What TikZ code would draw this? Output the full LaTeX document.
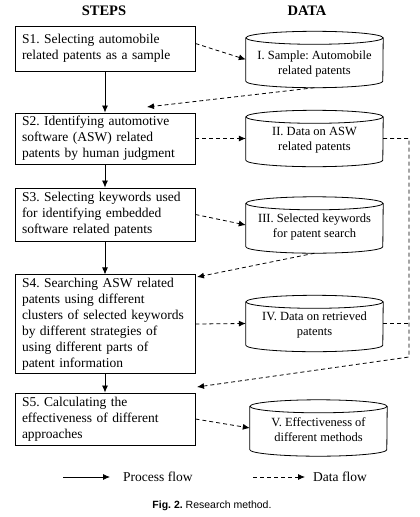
\documentclass[tikz,border=0pt]{standalone}
\usepackage{fontspec}
\setmainfont{Liberation Serif}
\newfontfamily\capfont{Liberation Sans}
\usetikzlibrary{arrows.meta,calc}
\frenchspacing
\tikzset{
 stepbox/.style={draw, line width=0.9pt, minimum width=180pt, text width=166pt, inner xsep=7pt, inner ysep=3pt, align=left, font=\fontsize{13.5}{16}\selectfont},
 cylbox/.style={rectangle, minimum width=137pt, minimum height=56pt, inner sep=0pt},
 cyltext/.style={align=center, font=\fontsize{12.5}{15}\selectfont, inner sep=0pt},
 cylline/.style={line width=0.8pt},
 process/.style={line width=0.8pt, -{Latex[length=7pt,width=6pt]}},
 dataflow/.style={line width=0.8pt, dash pattern=on 4pt off 3pt, -{Latex[length=7pt,width=6pt]}},
 datalink/.style={line width=0.8pt, dash pattern=on 4pt off 3pt},
 header/.style={font=\fontsize{14.5}{17}\selectfont\bfseries},
 legend/.style={anchor=west, inner sep=0pt, font=\fontsize{13.5}{16}\selectfont},
}
\newcommand\drawcyl[1]{%
 \draw[cylline] ([yshift=-6.5pt]#1.north west) -- ([yshift=6.5pt]#1.south west)
   arc[start angle=180,end angle=360,x radius=68.5pt,y radius=6.5pt]
   -- ([yshift=-6.5pt]#1.north east);
 \draw[cylline] ([yshift=-6.5pt]#1.north) ellipse[x radius=68.5pt,y radius=6.5pt];}
\begin{document}
\begin{tikzpicture}[x=1pt,y=-1pt]
\useasboundingbox (0,0) rectangle (420,517);
% headers
\node[header] (hs) at (104,11) {STEPS};
\node[header] (hd) at (307,11) {DATA};
% steps
\node[stepbox, minimum height=45pt] (S1) at (105,48.5) {S1. Selecting automobile\\ related patents as a sample};
\node[stepbox, minimum height=51pt] (S2) at (105,138.5) {S2. Identifying automotive\\ software (ASW) related\\ patents by human judgment};
\node[stepbox, minimum height=53pt] (S3) at (105,214.5) {S3. Selecting keywords used\\ for identifying embedded\\ software related patents};
\node[stepbox, minimum height=98pt] (S4) at (105,324) {S4. Searching ASW related\\ patents using different\\ clusters of selected keywords\\ by different strategies of\\ using different parts of\\ patent information};
\node[stepbox, minimum height=52pt] (S5) at (105,419) {S5. Calculating the\\ effectiveness of different\\ approaches};
% data cylinders
\node[cylbox] (D1) at (314.5,59.5) {};
\node[cylbox] (D2) at (314.5,138.5) {};
\node[cylbox] (D3) at (314.5,225) {};
\node[cylbox] (D4) at (314.5,323.5) {};
\node[cylbox] (D5) at (318.5,428) {};
\drawcyl{D1}\drawcyl{D2}\drawcyl{D3}\drawcyl{D4}\drawcyl{D5}
\node[cyltext] (D1t) at (314.5,63.5) {I. Sample: Automobile\\ related patents};
\node[cyltext] (D2t) at (314.5,140.5) {II. Data on ASW\\ related patents};
\node[cyltext] (D3t) at (314.5,226.5) {III. Selected keywords\\ for patent search};
\node[cyltext] (D4t) at (314.5,325) {IV. Data on retrieved\\ patents};
\node[cyltext] (D5t) at (318.5,429.5) {V. Effectiveness of\\ different methods};
% helper coordinates
\coordinate (T2) at (147,107);
\coordinate (T4) at (197,277);
\coordinate (T5) at (197,387);
\coordinate (J1) at (409,138.5);
\coordinate (J4) at (409,323.5);
\coordinate (J2) at (409,357);
% process flow
\draw[process] (S1.south) -- (S2.north);
\draw[process] (S2.south) -- (S3.north);
\draw[process] (S3.south) -- (S4.north);
\draw[process] (S4.south) -- (S5.north);
% data flow
\draw[dataflow] ([yshift=5pt]S1.east) -- (D1.west);
\draw[dataflow] (D1.south) -- (T2);
\draw[dataflow] (S2.east) -- (D2.west);
\draw[dataflow] (S3.east) -- (D3.west);
\draw[dataflow] (D3.south) -- (T4);
\draw[dataflow] (S4.east) -- (D4.west);
\draw[dataflow] (S5.east) -- (D5.west);
\draw[dataflow] (D2.east) -- (J1) -- (J2) -- (T5);
\draw[datalink] (D4.east) -- (J4);
% legend
\coordinate (L1a) at (63,477);
\coordinate (L1b) at (110,477);
\coordinate (L2a) at (253,477);
\coordinate (L2b) at (305,477);
\draw[process] (L1a) -- (L1b);
\draw[dataflow] (L2a) -- (L2b);
\node[legend] (L1t) at (123,477) {Process flow};
\node[legend] (L2t) at (313,477) {Data flow};
% caption
\node (cap) at (212,506) {\capfont\fontsize{10.5}{12}\selectfont\textbf{Fig. 2.} Research method.};
\end{tikzpicture}
\end{document}
